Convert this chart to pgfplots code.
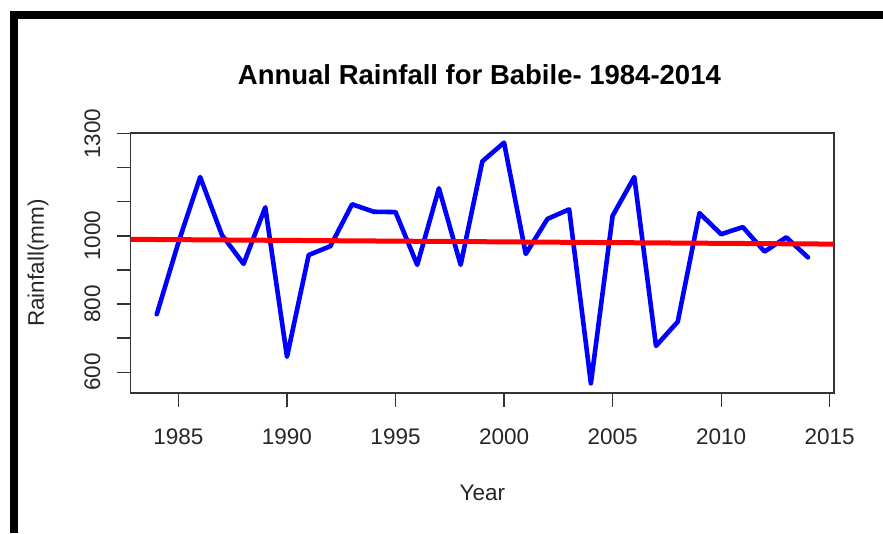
\documentclass[border=0pt]{standalone}
\usepackage{fontspec}
\setmainfont{Liberation Sans}
\usepackage{pgfplots}
\usepackage{pgfplotstable}
\pgfplotsset{compat=1.18}

% annual rainfall, Babile (mm)
\pgfplotstableread{
year rain
1984 770
1985 981
1986 1173
1987 1003
1988 918
1989 1084
1990 645
1991 944
1992 970
1993 1093
1994 1071
1995 1070
1996 915
1997 1140
1998 915
1999 1219
2000 1274
2001 947
2002 1050
2003 1078
2004 567
2005 1059
2006 1173
2007 677
2008 748
2009 1067
2010 1005
2011 1026
2012 954
2013 996
2014 937
}\rainfall

\begin{document}
\begin{tikzpicture}
\useasboundingbox (0pt,0pt) rectangle (883pt,-533pt);
% black frame at top and left of the screenshot
\fill[black] (10pt,-11pt) rectangle (883pt,-19pt);
\fill[black] (10pt,-11pt) rectangle (18pt,-533pt);
\begin{axis}[
  at={(130.7pt,-393pt)}, anchor=south west,
  scale only axis, width=703.3pt, height=260pt,
  xmin=1982.8, xmax=2015.2, ymin=538.7, ymax=1302.3,
  axis line style={black!80, line width=1.2pt},
  tick style={black!80, line width=1.2pt},
  tick align=outside, major tick length=14pt,
  xtick pos=bottom, ytick pos=left,
  xtick={1985,1990,1995,2000,2005,2010,2015},
  xticklabels={1985,1990,1995,2000,2005,2010,2015},
  ytick={600,700,800,900,1000,1100,1200,1300},
  yticklabels={600,,800,,1000,,,1300},
  /pgf/number format/assume math mode=true,
  tick label style={font=\fontsize{22.5}{27}\selectfont, text=black!85},
  xticklabel style={anchor=base},
  xticklabel shift=37pt,
  yticklabel style={rotate=90, anchor=base},
  yticklabel shift=16.7pt,
  title={Annual Rainfall for Babile- 1984-2014},
  title style={at={(axis description cs:0.4958,1.165)}, anchor=base,
    font=\bfseries\fontsize{27.5}{33}\selectfont},
  xlabel={Year},
  xlabel style={at={(axis description cs:0.5,-0.4115)}, anchor=base,
    font=\fontsize{22.5}{27}\selectfont, text=black!85},
  ylabel={Rainfall(mm)},
  ylabel style={at={(axis description cs:-0.1233,0.5)}, anchor=base,
    font=\fontsize{22.5}{27}\selectfont, text=black!85},
]
\addplot[blue, line width=4.6pt, line join=round, line cap=round]
  table[x=year, y=rain] {\rainfall};
% fitted trend line across the whole panel
\addplot[red, line width=5pt]
  coordinates {(1982.8,990)(2015.2,976)};
\end{axis}
\end{tikzpicture}
\end{document}
